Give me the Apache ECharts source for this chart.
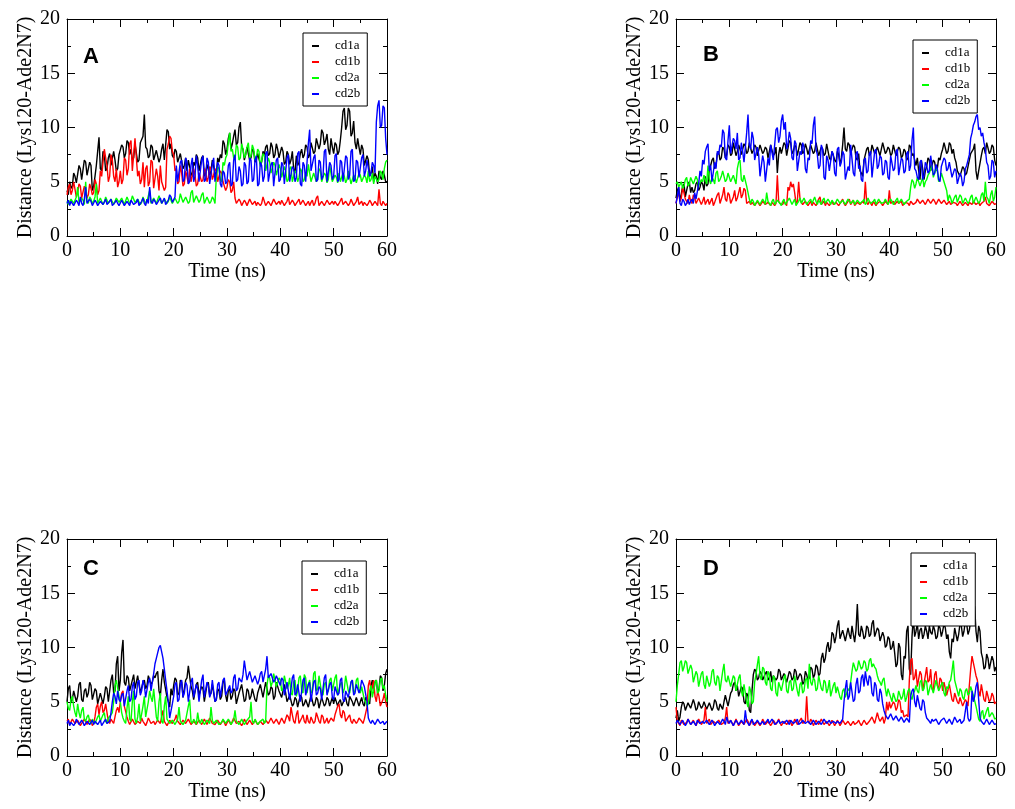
<!DOCTYPE html>
<html><head><meta charset="utf-8">
<script src="https://cdn.jsdelivr.net/npm/echarts@6/dist/echarts.min.js"></script>
<style>html,body{margin:0;padding:0;background:#fff}#c{width:1015px;height:809px}</style>
</head><body><div id="c"></div>
<script>
// time step between samples (ns); samples run 0..60
const TIME_STEP = 0.25;
const SERIES_NAMES = ['cd1a', 'cd1b', 'cd2a', 'cd2b'];
const PANEL_LABELS = ['A', 'B', 'C', 'D'];
const X_TICKS = [0, 10, 20, 30, 40, 50, 60];
const Y_TICKS = [0, 5, 10, 15, 20];

// ---- Panel A ----
const A_cd1a = [
4.2,3.8,5.0,4.4,4.6,5.8,5.5,4.9,4.8,6.5,6.2,5.2,5.3,7.0,6.8,5.6,5.5,6.8,6.5,4.2,
4.6,5.5,6.5,7.8,9.1,6.2,6.0,7.8,7.5,6.0,6.2,7.2,7.6,6.5,6.5,7.8,7.0,6.0,6.2,7.5,
7.5,8.4,8.2,7.2,7.6,8.8,8.6,7.5,8.0,7.0,7.2,8.5,8.4,6.8,7.0,8.6,8.5,9.2,11.2,8.2,
8.0,7.2,7.4,8.4,8.2,7.0,7.0,7.9,7.8,6.8,7.2,8.0,8.5,7.0,7.0,9.8,9.6,8.0,8.5,7.4,
7.2,8.0,7.8,6.8,6.8,7.6,7.5,6.2,6.5,7.2,6.0,7.0,7.0,5.8,5.5,6.8,6.5,7.5,7.2,6.0,
6.0,7.2,7.4,5.5,5.8,6.6,6.5,5.6,6.0,7.0,7.0,5.8,5.5,7.2,6.8,7.5,7.2,8.8,8.5,7.5,
8.0,9.0,9.5,8.0,8.5,9.2,9.8,8.4,8.6,10.0,10.5,8.2,8.0,7.0,7.5,8.2,8.2,7.0,7.2,8.0,
7.8,6.8,7.0,7.6,7.5,6.6,6.8,7.8,7.5,8.2,8.4,7.4,7.6,8.6,8.2,7.2,7.5,8.5,8.0,7.2,
7.2,8.2,7.8,6.6,6.8,7.8,7.5,6.6,7.0,7.8,6.2,5.8,7.4,6.5,6.8,7.6,8.0,7.2,7.5,8.4,
8.2,7.2,7.5,8.6,8.5,7.6,7.8,9.0,9.0,8.0,8.5,9.8,9.5,8.4,8.8,9.4,8.0,7.5,9.0,8.2,
7.6,8.6,8.4,7.5,7.8,8.8,10.0,11.5,11.8,9.8,10.2,11.8,11.5,9.2,9.5,10.6,8.6,8.0,9.0,8.2,
7.5,8.4,8.0,6.5,6.5,7.4,7.0,5.5,5.8,6.4,5.0,5.8,5.5,4.8,6.0,5.4,5.2,6.0,5.6,5.0,
5.0];
const A_cd1b = [
3.8,4.5,4.8,3.8,4.2,5.0,5.0,3.6,4.0,4.8,4.6,3.5,3.6,4.6,4.2,3.5,3.8,4.8,4.4,3.8,
4.0,5.2,4.8,3.8,4.2,6.0,5.5,6.8,8.0,7.2,6.5,5.0,5.5,7.5,7.0,5.5,5.0,6.2,4.5,5.0,
6.0,4.8,5.2,7.2,7.0,5.6,6.2,8.5,8.8,6.0,7.5,9.0,9.0,5.5,6.0,4.8,5.2,6.8,4.5,6.2,
6.5,4.6,5.0,7.0,6.8,4.4,4.5,6.2,5.5,4.2,6.5,5.0,5.0,4.2,4.5,8.0,8.5,9.2,9.0,7.8,
7.5,6.0,6.2,4.8,5.0,6.5,5.8,4.6,4.8,6.0,5.5,4.8,6.2,5.0,5.0,6.2,5.6,4.6,4.8,5.8,
5.8,5.0,5.2,6.2,6.0,5.0,5.4,6.4,6.2,5.2,5.6,6.2,6.0,5.0,5.5,6.0,5.8,5.0,5.0,4.2,
4.5,5.2,5.0,4.0,4.2,5.0,3.5,3.0,3.0,3.4,3.2,2.8,2.9,3.3,3.1,2.8,2.8,3.4,3.3,2.9,
3.0,3.2,2.8,3.1,3.2,2.8,3.0,3.6,3.5,2.8,2.9,3.2,3.1,2.8,2.8,3.4,3.3,2.9,3.0,3.2,
2.9,3.3,3.2,2.8,3.0,3.2,3.6,2.9,2.8,3.3,3.1,2.8,3.0,3.2,3.4,2.9,2.9,3.3,3.2,2.8,
3.0,3.2,2.8,3.1,3.3,2.8,3.0,3.5,3.7,2.8,2.9,3.2,3.1,2.8,2.8,3.3,3.4,2.9,3.0,3.2,
2.9,3.2,3.2,2.8,3.0,3.1,3.5,2.9,2.8,3.2,3.1,2.8,3.0,3.4,3.3,2.8,2.9,3.2,3.6,2.9,
3.0,3.2,2.8,3.1,3.2,2.8,3.0,3.3,3.1,2.8,2.9,3.2,3.2,2.8,4.3,3.0,2.8,3.2,3.1,2.8,
3.0];
const A_cd2a = [
3.2,2.9,2.9,3.4,3.4,3.0,3.0,3.6,4.5,3.1,3.1,3.5,3.3,2.9,5.0,3.2,3.0,3.6,3.4,3.0,
3.2,3.6,4.8,3.0,3.0,3.5,3.4,2.9,3.1,3.6,3.5,3.0,2.9,3.4,3.3,2.9,3.0,3.5,3.6,3.1,
3.1,3.5,3.4,2.9,3.0,3.6,3.5,3.0,3.2,3.7,3.8,3.1,3.0,3.4,3.3,2.9,3.1,3.6,3.5,3.0,
3.2,3.7,4.2,3.0,3.0,3.5,3.4,3.0,3.1,3.7,3.6,3.0,3.0,3.4,3.3,3.0,3.2,3.6,3.5,3.0,
3.0,3.5,3.6,3.0,3.2,3.9,3.8,3.1,3.0,3.6,3.5,3.0,3.2,4.0,4.2,3.1,3.1,3.7,3.6,3.1,
3.3,3.8,4.0,3.0,3.0,3.6,3.5,3.0,3.2,3.6,3.4,3.0,5.5,6.4,6.2,5.2,5.0,6.8,6.5,7.2,
7.5,8.6,9.5,7.8,8.0,7.2,7.0,8.4,8.2,7.0,7.2,8.5,8.0,7.2,7.5,8.2,8.6,7.2,7.4,8.4,
8.0,7.0,7.2,8.0,7.8,6.4,6.5,7.6,7.4,6.0,6.0,7.2,6.8,5.8,5.8,6.8,6.5,5.6,5.5,6.6,
6.2,5.4,5.5,6.4,6.0,5.0,5.2,6.2,6.4,5.0,5.0,6.0,5.8,5.0,5.4,6.2,6.0,5.0,5.2,5.8,
5.5,6.6,6.5,5.0,5.0,5.8,5.8,5.0,5.2,6.2,6.0,5.0,5.0,5.8,5.6,4.9,5.2,6.5,6.4,5.0,
5.0,5.6,5.4,4.9,5.8,5.0,5.0,5.8,5.5,4.9,5.2,6.0,6.0,4.8,4.8,5.6,5.4,4.9,5.0,5.8,
5.6,5.0,5.0,5.6,5.4,4.9,6.0,5.0,5.2,5.8,4.8,5.5,5.6,5.0,5.2,6.0,5.8,5.2,6.2,6.8,
7.0];
const A_cd2b = [
3.0,3.3,2.8,3.2,3.2,2.8,2.9,3.3,3.1,2.8,3.6,3.0,2.8,3.4,4.5,3.0,3.0,3.4,3.2,2.8,
2.9,3.3,3.1,2.8,2.8,3.2,3.3,2.9,3.0,3.4,2.9,2.8,3.2,3.4,2.8,2.9,3.1,3.3,3.0,2.8,
2.9,3.3,3.2,2.8,2.8,3.2,3.0,2.8,3.3,3.1,2.9,2.8,3.1,3.4,2.8,2.9,3.2,3.5,3.0,2.8,
3.4,3.0,4.5,3.2,3.0,3.4,3.2,2.9,2.9,3.3,3.5,3.0,3.1,3.5,2.9,3.0,3.3,3.8,3.6,3.1,
3.2,3.6,6.5,5.0,5.0,6.8,7.0,5.0,5.2,7.2,6.8,4.8,5.0,6.5,7.2,5.0,5.5,7.4,6.5,5.0,
5.0,7.0,7.4,5.0,5.2,7.2,6.8,4.8,4.8,6.6,7.2,5.0,5.0,6.8,6.5,4.8,4.5,6.0,5.8,4.8,
5.0,6.5,6.8,4.6,4.8,7.0,7.5,5.0,5.2,6.4,6.0,4.6,4.8,6.8,6.5,4.8,5.0,7.2,7.0,5.0,
5.2,7.0,7.4,4.6,4.8,6.8,6.5,5.0,5.5,7.6,7.8,5.0,5.0,6.6,6.8,4.6,4.5,7.0,7.2,5.0,
5.2,6.8,6.5,4.8,4.8,7.2,7.5,5.0,5.0,6.4,6.2,5.0,5.4,7.6,7.8,4.8,4.6,6.8,6.5,5.0,
5.0,8.5,9.8,6.0,6.0,7.2,7.5,5.0,5.2,7.0,6.8,5.2,5.5,7.8,8.0,5.0,5.0,6.8,6.5,5.2,
5.5,7.4,7.6,5.0,5.2,7.0,6.8,5.0,5.0,7.4,7.2,5.2,5.6,7.8,8.0,5.0,5.2,7.0,6.8,5.4,
5.5,7.2,7.5,5.5,6.0,7.0,7.0,5.5,5.8,6.8,6.5,5.8,10.5,12.0,12.5,10.0,10.2,12.0,11.8,9.0,
7.5];

// ---- Panel B ----
const B_cd1a = [
3.5,4.2,4.5,3.2,3.2,4.6,4.8,3.6,3.5,4.8,5.0,4.0,4.5,4.0,4.2,4.8,5.0,4.2,4.5,5.0,
4.8,4.2,5.5,4.6,4.8,6.2,6.5,7.0,7.2,6.2,6.5,7.6,7.8,7.0,7.2,8.2,8.0,7.2,7.5,8.4,
8.2,7.4,7.6,8.6,8.5,7.4,7.8,8.4,8.0,7.5,7.4,8.5,8.3,7.6,7.8,8.6,8.5,7.6,7.9,8.4,
8.2,7.4,7.5,8.4,8.4,7.6,7.8,8.2,8.0,7.2,7.2,8.4,8.5,7.4,7.6,8.2,5.8,7.5,8.2,7.6,
7.6,8.6,8.4,7.4,7.5,8.8,8.6,7.6,7.8,8.4,8.2,7.4,7.5,8.6,8.4,7.6,7.8,8.5,8.1,7.5,
7.6,8.4,8.3,7.6,7.8,8.6,8.5,7.4,7.4,8.2,8.0,7.4,7.6,8.5,8.4,7.2,7.0,7.8,7.8,7.0,
6.8,7.8,7.5,6.6,7.2,8.4,10.0,8.0,7.8,8.6,8.4,7.6,7.5,8.4,8.2,7.2,7.0,7.6,6.0,5.8,
5.5,7.0,7.5,8.0,8.2,7.4,7.6,8.4,8.4,7.6,7.8,8.2,8.2,7.4,7.5,8.6,8.5,7.6,7.8,8.2,
8.0,7.4,7.6,8.4,8.3,7.4,7.5,8.2,8.0,7.2,7.4,8.0,7.8,7.0,7.2,8.4,8.2,7.4,7.6,7.0,
6.5,7.2,6.0,5.2,7.0,6.2,5.2,6.0,6.4,7.2,7.0,6.0,6.0,7.0,6.8,6.0,6.2,7.2,7.0,7.6,
8.0,8.6,8.6,7.6,7.8,8.6,8.4,7.6,8.0,7.2,6.8,6.0,6.0,5.5,5.5,6.4,6.2,5.6,5.8,6.4,
6.5,7.6,7.5,8.0,8.5,6.0,5.2,6.0,6.0,7.4,8.0,8.2,7.6,8.6,8.5,7.6,7.8,8.4,8.2,7.0,
6.5];
const B_cd1b = [
3.0,3.6,4.0,3.2,3.5,4.5,4.5,3.4,3.2,3.0,3.8,3.2,3.0,3.8,3.6,3.0,2.9,3.5,3.5,2.9,
3.2,3.6,2.9,3.2,3.4,2.9,3.0,3.5,2.8,3.1,3.2,3.8,4.0,3.0,3.0,3.8,4.5,3.4,3.2,4.0,
3.8,3.0,2.9,3.6,4.2,3.2,3.5,4.0,4.5,3.5,3.8,4.4,4.2,3.0,3.0,3.2,2.9,3.1,3.1,2.8,
2.9,3.2,3.1,2.8,2.8,3.2,3.2,2.9,2.9,3.1,3.0,2.8,3.1,3.2,2.8,3.0,5.6,3.2,3.0,2.9,
2.9,3.2,3.2,2.8,4.5,4.2,5.0,4.5,4.8,4.0,3.0,3.2,5.0,3.4,3.1,2.9,2.9,3.2,3.2,2.8,
3.0,3.2,2.8,3.1,3.2,2.8,2.9,3.4,3.6,2.9,3.0,3.2,2.8,3.1,3.2,2.8,3.0,3.2,2.9,2.8,
3.1,3.2,2.8,2.9,3.2,3.4,3.0,2.8,2.9,3.2,3.4,2.9,3.0,3.3,2.8,2.9,3.1,3.2,2.9,2.8,
3.2,3.0,5.0,3.1,2.9,3.2,3.0,2.8,3.2,3.1,2.8,3.0,3.1,3.2,3.0,2.8,2.9,3.2,3.2,2.9,
4.2,3.0,3.0,3.2,2.9,2.8,3.2,3.0,3.0,3.2,2.8,2.9,3.1,3.2,3.0,2.8,3.2,3.1,2.9,3.0,
3.1,3.4,3.4,3.0,3.0,3.3,3.3,2.9,3.0,3.4,3.5,3.0,3.1,3.4,3.2,2.9,3.0,3.4,3.4,3.0,
3.1,3.3,3.3,2.9,3.0,3.2,2.9,2.8,3.1,3.2,3.0,2.8,2.8,3.2,3.2,2.8,2.9,3.1,3.0,2.8,
3.1,3.0,2.9,3.2,3.2,2.9,3.0,3.1,2.8,3.0,3.1,3.2,3.6,3.0,3.0,2.8,2.9,3.2,3.2,2.9,
3.0];
const B_cd2a = [
4.8,5.0,4.5,4.6,5.0,4.4,4.6,5.2,5.4,4.6,4.8,5.4,5.5,4.8,4.7,5.5,5.2,4.6,4.6,5.2,
5.0,5.6,5.6,4.8,6.5,5.2,4.8,5.4,5.2,4.8,5.8,6.0,5.0,5.2,5.5,6.0,6.0,5.0,5.2,5.8,
5.8,5.0,5.0,5.6,5.5,4.8,6.2,6.8,7.0,5.2,5.0,5.6,5.5,4.6,4.5,3.4,3.0,3.4,3.2,2.8,
2.9,3.3,3.3,2.9,3.0,3.4,3.2,2.9,4.0,3.2,3.0,2.8,3.2,3.4,2.9,3.0,3.3,3.4,3.0,2.8,
3.2,3.4,2.9,3.1,3.1,3.5,3.4,2.9,3.0,3.4,2.8,3.0,3.2,3.5,3.0,2.9,3.5,3.6,2.9,3.1,
3.2,3.4,3.0,2.9,3.6,3.2,2.9,3.3,3.1,2.9,3.3,3.5,3.0,2.9,3.4,3.2,2.9,3.3,3.2,2.9,
3.0,3.4,3.5,3.0,2.9,3.3,3.2,2.9,3.0,3.4,3.4,3.0,3.1,3.3,2.9,3.0,3.3,3.4,3.0,2.9,
3.2,3.4,2.9,3.1,3.5,3.2,3.0,2.9,3.2,3.4,2.9,3.0,3.4,3.2,3.0,2.9,3.1,3.4,3.3,2.9,
3.0,3.4,3.2,2.9,2.9,3.3,3.5,3.0,3.0,3.4,3.3,2.9,2.9,3.2,3.2,3.4,4.5,5.2,5.0,4.4,
4.8,5.4,5.5,4.6,5.0,5.4,4.5,5.0,5.2,5.6,5.8,6.2,6.5,5.4,5.5,6.2,6.0,5.0,5.2,5.8,
5.8,5.0,5.0,4.2,3.2,3.8,3.5,3.0,3.0,3.6,3.8,3.1,3.2,3.8,3.6,3.0,3.0,3.5,3.4,3.0,
3.2,3.6,3.8,3.0,3.0,3.6,3.5,3.0,3.2,3.8,4.0,3.2,5.0,3.6,3.4,3.0,3.8,4.2,3.2,3.6,
4.5];
const B_cd2b = [
3.0,3.6,4.5,3.0,2.8,3.4,3.2,2.8,3.0,3.4,2.9,3.2,3.4,3.0,4.0,3.4,3.5,4.8,6.0,5.5,
7.0,6.6,7.8,8.2,8.5,6.0,6.5,5.0,5.0,6.8,6.2,7.8,7.5,8.4,8.2,9.8,9.5,7.2,7.0,8.8,
10.2,7.6,7.5,9.0,8.8,8.0,9.5,7.0,7.2,8.6,7.8,6.8,6.8,9.5,11.2,8.4,8.0,9.6,9.0,7.0,
7.0,8.2,7.5,5.5,5.5,7.4,6.8,5.0,5.0,7.2,6.5,8.4,8.5,7.0,7.0,9.8,10.0,8.6,9.2,10.6,
11.2,9.8,10.5,8.0,8.5,9.6,9.0,7.2,7.0,8.8,8.5,6.0,6.0,7.8,7.5,8.6,8.2,6.2,5.8,7.2,
7.0,8.8,8.5,10.2,11.0,8.0,7.5,6.2,6.5,8.4,8.0,5.4,5.2,7.4,7.0,6.0,6.0,7.8,7.5,5.8,
5.5,8.0,8.2,6.4,6.8,7.8,7.5,5.2,5.2,6.4,6.0,8.4,8.5,5.8,5.5,7.6,7.8,6.2,6.5,5.2,
5.0,7.0,7.2,5.8,6.0,7.6,7.8,5.4,5.5,7.8,8.0,6.2,6.5,7.4,7.2,5.6,5.8,7.0,6.8,5.4,
5.2,7.4,7.5,6.0,6.2,7.8,8.0,5.6,5.5,7.2,7.0,5.8,6.0,7.6,7.8,6.0,6.5,8.8,10.0,6.2,
6.0,5.4,5.2,6.8,7.0,5.2,5.5,6.8,6.5,5.8,6.0,7.4,7.5,5.6,5.8,6.6,6.2,5.2,5.0,6.4,
6.5,7.2,7.0,6.0,6.2,6.8,6.8,5.4,5.5,6.2,6.0,4.8,4.8,5.8,5.5,4.6,5.0,6.2,6.5,7.0,
7.5,9.0,9.5,10.2,10.5,11.0,11.2,9.8,10.0,9.2,9.5,8.6,8.0,6.8,6.5,5.2,5.5,7.0,6.8,5.4,
6.0];

// ---- Panel C ----
const C_cd1a = [
5.0,6.2,6.5,5.0,5.2,6.0,6.0,5.0,5.5,6.6,6.8,5.2,5.0,6.0,6.2,5.4,5.8,6.8,6.5,5.2,
5.2,6.2,6.0,4.8,4.8,5.8,5.8,4.8,5.5,6.4,6.2,5.0,5.0,7.0,7.5,5.8,6.0,8.5,9.2,6.0,
7.0,9.5,10.7,6.8,6.5,7.4,7.2,6.0,6.0,7.0,7.5,6.2,6.2,7.4,7.4,5.8,5.8,6.8,7.0,6.2,
6.5,7.4,7.5,6.6,6.8,7.4,7.2,7.6,7.8,6.0,5.5,7.0,8.0,6.8,6.8,5.4,5.0,4.5,6.2,5.6,
6.5,7.2,7.0,5.6,5.8,7.0,6.8,5.4,5.5,7.0,7.2,8.3,8.3,6.4,6.0,5.2,5.2,6.6,6.8,5.6,
5.5,6.4,6.2,5.0,5.0,6.6,6.8,5.6,5.8,6.6,6.5,5.0,5.2,6.2,6.0,5.2,5.5,6.8,7.0,5.6,
5.0,6.0,6.2,5.2,5.5,6.2,6.0,4.8,4.8,5.8,5.8,6.6,6.5,5.0,5.2,6.2,6.0,5.2,5.5,6.2,
6.2,5.2,5.0,5.8,5.8,6.6,6.5,5.4,5.5,6.8,6.8,5.6,5.8,6.4,6.2,5.2,5.5,6.8,6.8,6.0,
6.0,5.4,5.5,6.6,6.5,5.0,5.0,5.6,5.5,4.6,4.8,5.4,5.2,4.5,4.6,5.6,5.4,4.6,4.8,5.2,
5.2,4.5,4.6,5.6,5.5,4.6,4.8,5.4,5.2,4.4,4.5,5.4,5.4,4.6,4.8,5.4,5.2,4.6,5.0,5.4,
4.8,5.4,5.4,4.6,5.0,5.2,4.6,4.5,5.2,5.4,4.8,4.6,5.5,5.4,5.0,4.6,4.7,5.4,5.3,4.6,
5.0,5.4,4.8,4.6,5.4,5.2,5.0,4.8,6.5,7.0,5.8,6.8,7.0,5.8,6.2,7.4,7.2,6.0,6.5,7.6,
8.0];
const C_cd1b = [
3.2,3.4,2.9,2.8,3.4,3.2,3.0,2.9,3.3,3.4,2.8,3.0,3.1,3.4,3.5,2.9,2.9,3.4,3.2,2.8,
3.0,3.6,4.5,4.8,3.8,4.6,5.0,4.0,4.2,4.8,4.8,3.2,3.0,3.4,3.2,3.0,3.6,4.2,4.5,4.0,
5.0,5.8,6.0,4.6,4.5,3.6,3.2,2.9,3.0,3.4,3.4,2.9,2.9,3.2,3.2,3.0,3.5,3.2,3.0,2.8,
3.1,3.5,3.6,3.0,3.0,3.2,2.9,2.8,3.3,3.4,3.0,3.1,4.2,3.2,3.1,2.8,2.9,3.3,3.4,3.0,
3.0,3.4,3.8,3.2,3.1,2.9,2.9,3.3,3.3,3.0,3.0,3.4,3.4,2.9,2.9,3.2,3.2,2.9,3.0,3.3,
3.1,2.9,2.9,3.4,3.3,2.9,3.0,3.5,3.6,3.0,3.0,2.9,2.9,3.3,3.2,2.9,3.0,3.3,3.1,2.8,
2.9,3.3,3.2,2.9,3.0,3.5,3.4,3.0,2.9,3.2,3.1,2.8,3.0,3.4,3.3,2.9,2.9,3.3,3.2,2.9,
3.0,3.3,3.4,2.9,2.9,3.2,3.1,2.9,3.0,3.3,3.2,3.0,3.0,3.5,3.4,3.0,3.1,3.4,3.3,2.9,
3.0,3.5,3.4,3.0,3.1,3.8,3.6,3.2,4.5,3.8,3.2,3.0,3.8,4.2,3.0,2.9,3.5,3.8,3.2,3.0,
3.8,3.2,3.0,3.6,3.5,3.0,3.2,4.0,4.0,3.2,3.0,3.8,3.6,3.0,3.2,3.5,3.0,2.9,3.5,3.4,
3.2,3.8,4.2,4.6,4.8,3.8,3.5,4.2,4.0,3.2,3.2,3.6,3.8,3.2,3.0,3.4,3.5,3.0,3.2,3.5,
3.4,3.2,3.0,3.4,3.5,4.5,6.5,7.0,6.0,6.4,7.0,5.5,5.0,6.0,5.5,4.6,4.5,5.2,5.8,5.0,
4.5];
const C_cd2a = [
5.0,4.4,4.2,5.2,5.5,4.6,4.0,3.6,4.8,4.0,3.5,4.2,4.5,3.4,3.2,3.6,3.8,3.2,3.0,3.4,
3.5,3.0,3.0,3.6,3.8,3.2,3.2,3.8,4.0,3.2,3.0,3.5,3.4,3.8,4.0,5.0,6.5,7.0,7.0,5.5,
5.0,4.0,3.5,3.2,3.0,4.4,5.5,3.4,3.2,5.0,6.0,3.4,3.0,3.6,4.8,3.2,3.2,4.6,5.5,3.6,
3.5,5.0,6.0,5.4,5.0,6.2,6.2,3.6,3.2,5.0,5.8,3.2,3.0,4.6,5.5,3.4,3.4,3.0,3.0,3.3,
3.2,2.9,3.0,3.4,4.5,3.2,3.1,2.9,2.9,3.3,3.3,4.6,5.2,3.2,3.0,3.4,3.2,2.9,4.0,3.2,
3.0,3.4,3.4,2.9,2.9,3.3,3.2,3.0,4.5,3.3,3.0,2.9,3.3,3.4,2.9,3.0,3.1,3.4,3.5,3.0,
3.0,3.4,3.2,2.9,2.9,3.3,4.2,3.2,3.1,2.9,3.0,3.4,3.4,2.9,2.9,3.3,3.2,3.6,5.0,3.2,
3.0,3.4,3.3,2.9,2.9,3.2,3.1,3.4,3.0,3.2,6.5,7.4,7.2,6.4,6.8,7.6,7.5,6.4,6.5,7.2,
7.0,6.0,6.2,7.4,7.5,6.2,6.5,7.2,5.8,5.6,6.8,7.0,5.5,6.0,7.2,7.4,6.0,5.8,7.5,7.2,
5.8,6.6,7.0,5.8,6.0,7.6,7.8,6.0,6.2,7.4,7.5,5.8,5.6,6.6,6.8,5.8,6.0,7.0,7.2,6.0,
6.0,7.2,7.5,5.6,5.5,6.6,6.8,5.8,6.2,7.4,7.5,6.0,5.8,6.8,7.0,5.8,6.0,7.0,7.2,6.0,
5.8,6.4,6.5,5.2,5.0,4.6,4.8,6.0,6.5,5.4,5.5,6.8,7.0,5.8,6.0,7.0,7.2,6.2,6.5,5.6,
5.0];
const C_cd2b = [
3.0,3.3,2.8,3.1,3.2,2.8,3.0,3.4,3.4,2.9,2.9,3.3,3.1,2.8,2.8,3.2,3.3,2.9,3.0,3.3,
2.9,3.2,3.2,2.9,3.0,3.3,2.8,3.0,3.1,3.4,3.0,3.0,3.2,4.0,5.0,5.8,5.5,4.8,6.0,5.2,
5.0,5.6,5.8,4.6,4.5,6.0,6.5,5.0,5.2,6.4,6.8,5.2,5.5,6.8,7.0,5.6,6.0,7.0,6.5,5.4,
5.5,6.8,7.2,6.0,6.0,7.6,8.5,9.0,9.5,10.0,10.2,9.6,9.0,8.0,7.0,6.0,5.0,3.5,3.5,4.8,
5.5,6.6,6.8,5.0,5.2,6.6,7.0,5.4,5.8,6.8,6.5,5.0,5.0,6.8,7.2,5.4,5.5,6.6,6.2,5.0,
5.0,7.0,7.5,5.4,5.5,6.8,6.5,5.4,5.8,7.0,7.0,5.0,5.2,6.6,6.8,5.4,5.5,7.0,7.2,5.6,
5.5,6.2,6.5,5.8,6.0,7.2,7.5,6.0,6.2,7.2,7.0,6.8,7.5,8.8,8.8,7.0,7.0,7.8,7.8,6.8,
6.8,7.4,7.5,6.6,7.0,7.6,7.8,6.8,6.8,8.0,9.2,7.2,7.2,7.6,7.5,6.8,7.0,7.4,7.4,6.8,
6.5,7.2,7.0,5.6,5.5,6.8,6.8,5.2,5.2,7.2,7.5,5.6,5.8,6.6,6.5,5.0,5.0,7.0,7.2,5.6,
5.5,6.6,6.8,5.0,5.0,6.8,7.0,5.6,5.8,6.4,6.2,5.2,5.2,7.2,7.5,5.6,5.5,6.6,6.8,5.4,
5.2,6.4,6.5,5.6,5.8,7.0,7.2,5.2,5.0,6.0,6.0,5.4,5.5,6.8,7.0,5.6,5.8,6.6,6.5,5.8,
6.2,7.0,7.0,6.4,6.5,5.0,3.5,3.2,3.0,3.3,3.2,2.9,2.9,3.4,3.3,3.0,3.0,3.2,2.9,3.0,
3.2];

// ---- Panel D ----
const D_cd1a = [
3.5,4.2,3.2,3.6,4.5,5.0,4.8,4.2,4.2,4.9,5.0,4.4,4.5,5.2,4.8,4.2,4.4,5.0,5.0,4.4,
4.6,5.0,4.9,4.3,4.4,4.9,4.8,4.2,4.5,5.2,5.0,4.4,4.2,4.8,4.7,4.3,5.0,5.6,5.5,4.6,
4.5,5.8,6.0,6.6,6.8,6.0,6.5,5.5,5.5,6.4,6.2,5.0,4.8,5.8,5.5,4.2,4.0,6.0,7.5,8.0,
7.8,7.0,7.2,7.8,7.6,7.0,7.0,7.6,7.8,7.0,7.2,7.8,6.8,7.4,7.5,7.0,7.2,8.0,7.8,7.0,
7.0,7.6,7.5,6.8,6.8,7.8,7.6,7.0,7.2,8.0,7.8,7.0,7.0,7.6,7.4,6.6,6.8,7.8,7.5,7.0,
7.2,8.2,8.0,7.2,7.5,8.4,8.2,7.4,7.6,9.0,9.5,8.6,9.0,10.0,10.5,9.6,10.0,11.4,11.2,10.4,
11.0,12.0,12.5,10.8,10.8,11.6,11.5,10.6,10.5,11.8,11.2,10.8,12.0,11.2,10.5,11.6,14.0,11.2,11.0,12.0,
11.5,10.8,11.0,12.0,11.8,11.0,11.2,12.2,12.5,11.0,11.0,11.8,11.6,10.6,10.5,11.4,11.0,10.0,10.2,11.0,
10.8,9.8,10.0,10.6,9.5,8.2,8.5,10.4,10.0,7.5,7.0,9.2,9.0,11.5,12.0,8.0,7.5,11.0,12.8,11.0,
11.5,12.2,10.8,11.6,11.8,10.8,11.2,12.0,11.5,10.8,12.0,11.4,11.2,12.0,11.6,10.8,11.0,12.0,11.8,11.0,
11.5,12.2,11.8,10.8,11.2,9.6,9.0,10.8,10.5,11.8,11.8,10.6,11.2,12.2,12.0,11.0,11.5,12.4,12.2,11.2,
11.6,12.5,12.5,13.0,13.8,11.5,10.5,12.0,11.5,9.5,9.0,8.0,8.2,9.4,9.0,8.0,8.0,9.2,8.8,7.8,
8.2];
const D_cd1b = [
4.5,3.2,3.0,2.8,3.3,3.2,2.9,3.0,3.1,3.4,3.4,2.9,3.0,3.3,3.2,2.8,2.9,3.4,3.3,2.9,
3.0,3.3,4.5,3.0,3.1,3.4,2.9,2.8,3.2,3.3,3.0,2.9,3.3,3.4,2.9,2.8,3.1,3.5,4.5,3.0,
3.0,3.3,3.2,2.8,2.9,3.4,3.1,2.8,3.0,3.2,3.3,2.9,2.9,3.4,3.2,2.8,3.0,3.3,3.1,2.8,
2.9,3.2,3.2,2.8,3.0,3.4,3.3,2.9,2.9,3.2,3.1,2.8,3.0,3.3,3.2,2.9,2.9,3.4,3.1,2.8,
3.0,3.2,3.3,2.9,2.9,3.3,3.1,2.8,3.0,3.4,3.2,2.9,2.9,3.3,3.5,3.0,3.0,3.2,5.5,3.2,
3.0,3.4,3.2,2.8,2.9,3.3,3.1,2.9,3.0,3.4,3.3,2.9,2.9,3.2,3.1,2.8,3.0,3.3,3.2,2.8,
2.9,3.3,3.1,2.8,3.0,3.3,3.2,2.9,2.9,3.2,3.1,2.8,3.0,3.2,2.9,2.8,3.1,3.3,3.0,2.8,
2.9,3.3,3.2,2.9,3.0,3.2,3.1,3.6,3.5,3.0,3.0,4.0,3.5,3.2,3.2,3.6,3.0,3.4,5.0,4.2,
5.0,4.4,4.5,5.0,4.8,4.2,4.5,5.2,5.0,4.0,4.2,3.6,3.5,3.8,3.6,7.0,8.8,9.0,7.0,7.2,
8.0,6.4,6.5,7.8,7.5,6.0,6.0,7.4,8.2,6.8,7.0,8.0,6.2,6.0,7.5,7.8,6.5,6.2,7.2,7.0,
6.0,6.8,6.8,5.6,5.5,6.6,6.5,5.2,5.0,5.8,5.8,5.0,4.8,5.4,5.5,4.6,4.5,5.2,5.0,4.6,
6.5,8.0,9.2,8.6,8.5,7.4,7.0,6.0,5.5,6.6,6.5,5.2,5.0,6.0,6.0,5.0,5.2,5.8,5.5,4.8,
5.0];
const D_cd2a = [
5.0,6.5,7.5,8.6,8.8,7.8,8.2,8.8,8.6,7.6,7.5,8.4,8.0,6.8,6.8,7.8,7.5,6.4,6.5,7.6,
7.8,6.6,6.2,7.4,7.5,6.4,6.8,7.8,8.0,6.8,6.5,7.4,7.2,6.0,6.0,7.8,8.5,7.0,6.8,7.4,
7.5,6.4,6.5,7.4,7.2,6.0,6.0,7.2,7.5,6.0,5.5,6.6,6.5,5.0,4.5,6.4,6.0,4.8,5.0,6.8,
7.5,8.4,9.2,7.4,7.0,8.2,8.0,6.8,6.5,7.8,7.5,6.2,6.0,7.4,7.2,5.8,5.5,6.8,6.8,6.0,
6.0,7.2,7.5,6.0,5.8,6.8,7.0,6.0,6.2,7.4,7.5,6.0,5.5,6.6,6.8,5.8,6.0,7.0,7.2,6.2,
8.5,6.8,6.5,7.2,7.0,6.0,6.2,7.4,7.5,6.2,6.0,7.0,6.8,5.8,6.2,7.0,5.5,5.6,6.5,6.8,
5.8,6.4,6.5,5.4,5.2,6.0,6.2,5.4,5.5,6.2,6.0,6.8,7.8,8.6,8.5,7.8,8.0,8.8,8.8,8.0,
8.2,8.8,8.6,7.8,8.0,8.8,9.0,8.2,8.5,8.2,8.0,7.4,7.0,6.8,6.5,7.0,7.2,6.2,5.5,6.2,
6.2,5.4,5.0,5.8,5.8,5.0,5.2,6.0,6.0,5.2,5.5,6.2,5.0,5.4,6.0,6.2,5.5,5.2,5.8,6.0,
6.5,6.0,5.8,6.8,7.0,6.0,6.2,7.0,6.8,5.6,5.5,6.6,6.5,5.8,5.8,7.0,7.0,6.0,6.0,6.6,
6.8,5.8,5.5,6.4,6.2,6.8,7.0,7.8,8.8,7.0,6.5,6.0,5.5,6.2,6.0,5.4,5.2,6.0,6.2,5.6,
5.8,6.4,6.5,5.6,5.5,4.6,4.0,3.4,3.2,4.0,4.2,3.4,3.5,4.2,4.5,3.6,3.5,4.0,3.8,3.4,
3.5];
const D_cd2b = [
3.0,3.3,3.4,2.9,2.9,3.3,3.2,2.8,3.0,3.4,3.5,2.9,2.9,3.2,3.1,2.8,3.3,3.4,3.0,2.9,
3.2,3.0,2.9,3.3,3.4,2.9,3.0,3.3,3.1,2.8,2.8,3.2,3.3,2.9,3.0,3.4,3.2,2.9,3.6,3.2,
3.0,3.3,3.2,2.8,2.9,3.3,3.4,2.9,3.0,3.3,3.1,2.9,4.2,3.2,3.0,2.8,3.2,3.4,2.9,2.8,
3.1,3.3,3.3,2.9,3.0,3.2,2.9,2.8,3.2,3.4,3.0,2.9,3.4,3.2,2.9,3.0,3.1,3.3,3.0,2.9,
3.2,3.0,2.9,3.3,3.1,2.9,3.3,3.4,3.0,2.9,3.2,3.4,2.9,3.0,3.1,3.3,3.4,3.0,3.0,3.2,
3.2,2.9,3.0,3.3,3.3,2.9,2.9,3.2,3.1,2.9,3.0,3.4,3.4,3.0,3.1,3.3,3.0,2.9,3.2,3.3,
3.0,3.2,3.3,3.0,3.1,3.4,5.0,6.2,7.0,5.2,5.5,6.8,6.8,5.0,5.2,6.6,7.2,5.8,6.0,7.2,
7.5,6.4,7.8,7.0,6.5,7.4,7.2,5.8,5.5,6.8,6.5,5.2,5.0,6.2,5.8,4.8,4.2,3.8,3.8,3.4,
3.5,3.9,3.8,3.3,3.4,3.7,3.6,3.2,3.3,3.6,3.5,3.1,3.2,3.5,3.4,3.1,5.5,6.0,6.2,5.0,
4.5,5.6,5.5,4.4,4.2,5.2,5.0,4.0,3.5,3.4,3.2,3.0,3.4,3.2,3.1,3.4,3.3,2.9,3.0,3.3,
3.2,3.5,3.4,3.0,3.1,3.4,3.3,2.9,3.0,3.6,3.5,3.1,3.2,3.4,3.0,2.9,3.3,3.4,5.0,3.5,
3.2,3.4,6.0,5.0,5.5,6.4,6.8,5.2,3.5,3.2,3.2,2.9,3.0,3.4,3.3,2.9,3.1,3.3,3.2,2.9,
3.0];

const PANELS = [
  [A_cd1a, A_cd1b, A_cd2a, A_cd2b],
  [B_cd1a, B_cd1b, B_cd2a, B_cd2b],
  [C_cd1a, C_cd1b, C_cd2a, C_cd2b],
  [D_cd1a, D_cd1b, D_cd2a, D_cd2b]
];

const COLORS = ['#000000', '#ff0000', '#00ff00', '#0000ff'];
const SERIF = "'Liberation Serif','Times New Roman',serif";

const GRIDS = [
  {left: 67, top: 19}, {left: 676, top: 19},
  {left: 67, top: 539}, {left: 676, top: 539}
];
const LEGEND_POS = [
  {left: 303, top: 33}, {left: 913, top: 40},
  {left: 302, top: 561}, {left: 911, top: 553}
];
const LETTER_POS = [
  {left: 83, top: 46}, {left: 703, top: 44},
  {left: 83, top: 558}, {left: 703, top: 558}
];

function tickCommon() {
  return {
    axisLine: {show: true, onZero: false, lineStyle: {color: '#000', width: 1}},
    axisTick: {show: true, inside: true, length: 8, lineStyle: {color: '#000', width: 1}},
    minorTick: {show: true, splitNumber: 2, length: 4, lineStyle: {color: '#000', width: 1}},
    splitLine: {show: false},
    minorSplitLine: {show: false}
  };
}

const option = {
  animation: false,
  backgroundColor: '#fff',
  grid: GRIDS.map(g => ({left: g.left, top: g.top, width: 320, height: 217, show: false, containLabel: false})),
  xAxis: [],
  yAxis: [],
  series: [],
  legend: [],
  title: []
};

for (let p = 0; p < 4; p++) {
  option.xAxis.push(Object.assign(tickCommon(), {
    type: 'value', gridIndex: p, min: X_TICKS[0], max: X_TICKS[X_TICKS.length - 1], interval: 10,
    position: 'bottom',
    name: 'Time (ns)', nameLocation: 'middle', nameGap: 19,
    nameTextStyle: {fontFamily: SERIF, fontSize: 20, color: '#000'},
    axisLabel: {show: true, margin: 5, fontFamily: SERIF, fontSize: 20, color: '#000'}
  }));
  option.xAxis.push(Object.assign(tickCommon(), {
    type: 'value', gridIndex: p, min: X_TICKS[0], max: X_TICKS[X_TICKS.length - 1], interval: 10,
    position: 'top', axisLabel: {show: false}
  }));
  option.yAxis.push(Object.assign(tickCommon(), {
    type: 'value', gridIndex: p, min: Y_TICKS[0], max: Y_TICKS[Y_TICKS.length - 1], interval: 5,
    position: 'left',
    name: 'Distance (Lys120-Ade2N7)', nameLocation: 'middle', nameGap: 31,
    nameTextStyle: {fontFamily: SERIF, fontSize: 20, color: '#000'},
    axisLabel: {show: true, margin: 7, fontFamily: SERIF, fontSize: 20, color: '#000'}
  }));
  option.yAxis.push(Object.assign(tickCommon(), {
    type: 'value', gridIndex: p, min: Y_TICKS[0], max: Y_TICKS[Y_TICKS.length - 1], interval: 5,
    position: 'right', axisLabel: {show: false}
  }));

  PANELS[p].forEach((vals, s) => {
    option.series.push({
      type: 'line', name: SERIES_NAMES[s],
      xAxisIndex: p * 2, yAxisIndex: p * 2,
      data: vals.map((v, i) => [i * TIME_STEP, v]),
      showSymbol: false, symbol: 'none',
      lineStyle: {color: COLORS[s], width: 1.4},
      itemStyle: {color: COLORS[s]},
      z: 2 + s
    });
  });

  option.legend.push({
    left: LEGEND_POS[p].left, top: LEGEND_POS[p].top,
    orient: 'vertical',
    data: SERIES_NAMES.map(n => ({name: n, icon: 'rect'})),
    itemWidth: 7, itemHeight: 2, itemGap: 2,
    padding: [6, 7, 5, 9],
    borderColor: '#000', borderWidth: 1, backgroundColor: '#fff',
    selectedMode: false,
    textStyle: {fontFamily: SERIF, fontSize: 13, color: '#000', lineHeight: 14, padding: [0, 0, 0, 11]},
    z: 10
  });

  option.title.push({
    text: PANEL_LABELS[p], left: LETTER_POS[p].left, top: LETTER_POS[p].top, padding: 0,
    textStyle: {fontFamily: "'Liberation Sans',Arial,sans-serif", fontWeight: 'bold', fontSize: 22, color: '#000'}
  });
}

const chart = echarts.init(document.getElementById('c'), null, {renderer: 'canvas'});
chart.setOption(option);

const bad = [];
PANELS.forEach((ser, p) => ser.forEach((v, s) => { if (v.length !== 241) bad.push(PANEL_LABELS[p] + '_' + SERIES_NAMES[s] + ':' + v.length); }));
if (bad.length) throw new Error('Length mismatch: ' + bad.join(', '));
</script>
</body></html>
